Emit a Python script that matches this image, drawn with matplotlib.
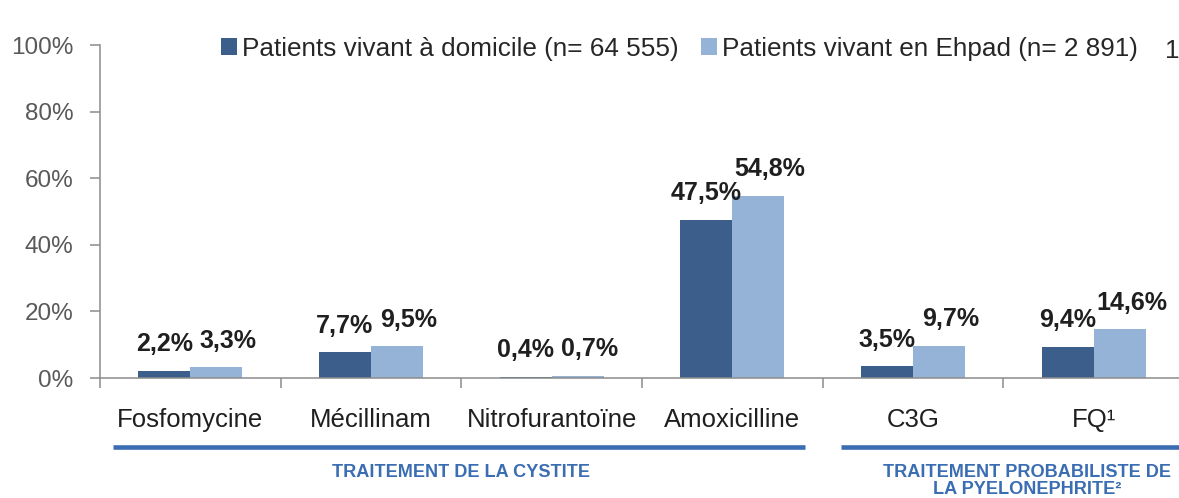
"""Antibiotic prescription share: home patients vs nursing-home (Ehpad) patients."""

import matplotlib

matplotlib.use("Agg")
import matplotlib.pyplot as plt
import matplotlib.transforms as mtransforms
from matplotlib.lines import Line2D
from matplotlib.patches import Patch
from matplotlib.ticker import FuncFormatter

# --- data -----------------------------------------------------------------
categories = ["Fosfomycine", "Mécillinam", "Nitrofurantoïne", "Amoxicilline", "C3G", "FQ¹"]
domicile = [2.2, 7.7, 0.4, 47.5, 3.5, 9.4]
ehpad = [3.3, 9.5, 0.7, 54.8, 9.7, 14.6]
series_names = [
    "Patients vivant à domicile (n= 64 555)",
    "Patients vivant en Ehpad (n= 2 891)",
]
group_lines = [["TRAITEMENT DE LA CYSTITE"], ["TRAITEMENT PROBABILISTE DE", "LA PYELONEPHRITE²"]]
y_ticks = [0, 20, 40, 60, 80, 100]

# --- style ----------------------------------------------------------------
DARK = "#3c5e8b"
LIGHT = "#95b3d7"
GROUP_BLUE = "#3a6db2"
AXIS_GREY = "#8c8c8c"
TEXT = "#1f1f1f"

plt.rcParams["font.family"] = ["Liberation Sans", "DejaVu Sans"]

W, H = 1179, 498
fig = plt.figure(figsize=(W / 100, H / 100), dpi=100)
# axis spans 100px -> 1184px (past right edge, as in the source crop), 0% at y=378, 100% at y=45
ax = fig.add_axes([100 / W, (H - 378) / H, 1084 / W, 333 / H])

x = list(range(len(categories)))
bw = 0.288
bars_d = ax.bar([i - bw / 2 for i in x], domicile, bw, color=DARK, label=series_names[0])
bars_e = ax.bar([i + bw / 2 for i in x], ehpad, bw, color=LIGHT, label=series_names[1])

for rect, v in zip(bars_d, domicile):
    ax.annotate(f"{v:.1f}%".replace(".", ","), (rect.get_x() + rect.get_width() / 2, v),
                xytext=(0, 14), textcoords="offset points", ha="center", va="baseline",
                fontsize=18, fontweight="bold", color=TEXT)
for rect, v in zip(bars_e, ehpad):
    ax.annotate(f"{v:.1f}%".replace(".", ","), (rect.get_x() + rect.get_width() / 2, v),
                xytext=(8.5, 14), textcoords="offset points", ha="center", va="baseline",
                fontsize=18, fontweight="bold", color=TEXT)

ax.set_xlim(-0.5, len(categories) - 0.5)
ax.set_ylim(0, 100)

ax.set_yticks(y_ticks)
ax.yaxis.set_major_formatter(FuncFormatter(lambda v, _: f"{v:.0f}%"))
ax.tick_params(axis="y", length=7.2, width=1.1, color=AXIS_GREY, pad=12,
               labelsize=17.5, labelcolor="#595959")

ax.set_xticks(x, categories)
ax.set_xticks([i - 0.5 for i in range(len(categories) + 1)], minor=True)
ax.tick_params(axis="x", which="major", length=0, pad=35, labelsize=18.5, labelcolor=TEXT)
ax.tick_params(axis="x", which="minor", length=7.5, width=1.1, color=AXIS_GREY)
for lab in ax.get_xticklabels():
    lab.set_verticalalignment("baseline")

for side in ("top", "right"):
    ax.spines[side].set_visible(False)
for side in ("left", "bottom"):
    ax.spines[side].set_color(AXIS_GREY)
    ax.spines[side].set_linewidth(1.1)

# group brackets under the category labels
blend = mtransforms.blended_transform_factory(ax.transData, fig.transFigure)
group_spans = [(-0.43, 3.40), (3.60, 5.70)]
group_label_x = [1.5, 4.63]
line_y = 1 - 447 / H
for (x0, x1), lx, lines in zip(group_spans, group_label_x, group_lines):
    fig.add_artist(Line2D([x0, x1], [line_y, line_y], transform=blend,
                          color=GROUP_BLUE, linewidth=3.3, solid_capstyle="butt"))
    for k, txt in enumerate(lines):
        fig.text(lx, 1 - (477 + 17 * k) / H, txt, transform=blend, ha="center", va="baseline",
                 fontsize=13.1, fontweight="bold", color=GROUP_BLUE)

handles = [Patch(facecolor=DARK), Patch(facecolor=LIGHT)]
fig.legend(handles, series_names, loc="center left", bbox_to_anchor=(221 / W, 1 - 49 / H),
           ncols=2, frameon=False, fontsize=18.8, handlelength=0.61, handleheight=0.61,
           handletextpad=0.2, columnspacing=0.85, borderpad=0, borderaxespad=0,
           labelcolor="#262626")
fig.text(1165 / W, 1 - 58 / H, "1", fontsize=18.8, color="#262626", va="baseline")

fig.savefig("out.png", dpi=100)
